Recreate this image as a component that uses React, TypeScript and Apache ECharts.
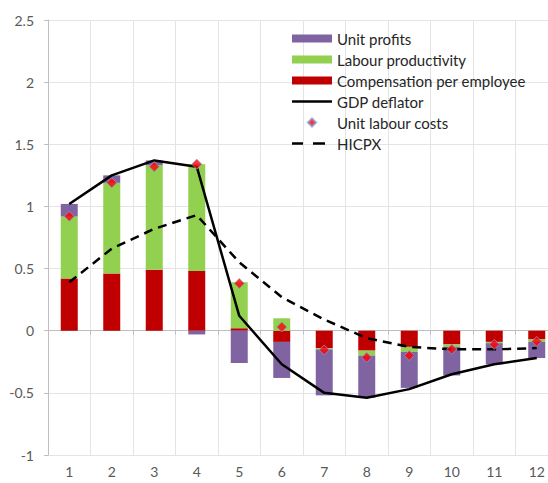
import React, { useEffect, useRef } from "react";
import * as echarts from "echarts";

const categories = ["1", "2", "3", "4", "5", "6", "7", "8", "9", "10", "11", "12"];
const compensation = [0.42, 0.46, 0.49, 0.48, 0.02, -0.09, -0.14, -0.16, -0.13, -0.11, -0.09, -0.07];
const productivity = [0.5, 0.73, 0.84, 0.86, 0.37, 0.1, -0.01, -0.04, -0.04, -0.02, -0.01, -0.02];
const unitProfits = [0.1, 0.06, 0.04, -0.03, -0.26, -0.29, -0.37, -0.34, -0.29, -0.23, -0.17, -0.13];
const gdpDeflator = [1.02, 1.25, 1.37, 1.32, 0.12, -0.27, -0.5, -0.54, -0.47, -0.35, -0.27, -0.22];
const unitLabourCosts = [0.92, 1.19, 1.32, 1.34, 0.38, 0.03, -0.155, -0.215, -0.2, -0.15, -0.11, -0.086];
const hicpx = [0.39, 0.66, 0.82, 0.93, 0.55, 0.27, 0.09, -0.06, -0.13, -0.15, -0.15, -0.14];

const FONT = "Lato, 'Open Sans', sans-serif";
const SOLID_ICON = "path://M0,0L40,0L40,2.5L0,2.5Z";
const DASH_ICON = "path://M0,0L11,0L11,2.5L0,2.5Z M21,0L33,0L33,2.5L21,2.5Z M40,0L40,2.5L40,2.5Z";

export default function App() {
  const ref = useRef<HTMLDivElement>(null);
  useEffect(() => {
    if (!ref.current) return;
    const chart = echarts.init(ref.current, null, { renderer: "svg" });
    chart.setOption({
      animation: false,
      backgroundColor: "#ffffff",
      textStyle: { fontFamily: FONT },
      grid: {
        left: 48,
        width: 510,
        top: 20,
        height: 435,
        containLabel: false,
        outerBoundsMode: "none",
      },
      legend: {
        orient: "vertical",
        left: 292,
        top: 31,
        padding: 0,
        itemWidth: 40,
        itemHeight: 8,
        itemGap: 6,
        textStyle: { fontFamily: FONT, fontSize: 15, color: "#262626", lineHeight: 14 },
        data: [
          { name: "Unit profits", icon: "rect" },
          { name: "Labour productivity", icon: "rect" },
          { name: "Compensation per employee", icon: "rect" },
          { name: "GDP deflator", icon: SOLID_ICON },
          { name: "Unit labour costs", icon: "path://M0,-1L1,0L0,1L-1,0Z" },
          { name: "HICPX", icon: DASH_ICON },
        ],
      },
      xAxis: [
        {
          type: "category",
          data: categories,
          position: "bottom",
          axisLine: { onZero: true, lineStyle: { color: "#bfbfbf", width: 1 } },
          axisTick: { show: true, length: 4, lineStyle: { color: "#bfbfbf" } },
          axisLabel: { show: false },
          splitLine: { show: true, lineStyle: { color: "#e4e4e4", width: 1 } },
        },
        {
          type: "category",
          data: categories,
          position: "bottom",
          axisLine: { show: false, onZero: false },
          axisTick: { show: false },
          axisLabel: { show: true, fontSize: 14, color: "#595959", fontFamily: FONT, margin: 9 },
          splitLine: { show: false },
        },
      ],
      yAxis: {
        type: "value",
        min: -1,
        max: 2.5,
        interval: 0.5,
        axisLine: { show: true, lineStyle: { color: "#bfbfbf" } },
        axisTick: { show: true, length: 4, lineStyle: { color: "#bfbfbf" } },
        axisLabel: { fontSize: 14, color: "#595959", fontFamily: FONT, margin: 14 },
        splitLine: { show: true, lineStyle: { color: "#e4e4e4", width: 1 } },
      },
      series: [
        {
          name: "Compensation per employee",
          type: "bar",
          stack: "total",
          barWidth: 17,
          data: compensation,
          itemStyle: { color: "#c00000" },
        },
        {
          name: "Labour productivity",
          type: "bar",
          stack: "total",
          barWidth: 17,
          data: productivity,
          itemStyle: { color: "#92d050" },
        },
        {
          name: "Unit profits",
          type: "bar",
          stack: "total",
          barWidth: 17,
          data: unitProfits,
          itemStyle: { color: "#8064a2" },
        },
        {
          name: "GDP deflator",
          type: "line",
          data: gdpDeflator,
          symbol: "none",
          lineStyle: { color: "#000000", width: 2.5 },
          itemStyle: { color: "#000000" },
          z: 3,
        },
        {
          name: "HICPX",
          type: "line",
          data: hicpx,
          symbol: "none",
          lineStyle: { color: "#000000", width: 2.5, type: [9, 6] },
          itemStyle: { color: "#000000" },
          z: 3,
        },
        {
          name: "Unit labour costs",
          type: "scatter",
          data: unitLabourCosts,
          symbol: "diamond",
          symbolSize: 10,
          itemStyle: { color: "#ff0000", borderColor: "#8b96d0", borderWidth: 1 },
          z: 4,
        },
      ],
    });
    return () => chart.dispose();
  }, []);
  return (
    <div
      ref={ref}
      style={{ position: "fixed", left: 0, top: 0, width: 548, height: 483 }}
    />
  );
}
